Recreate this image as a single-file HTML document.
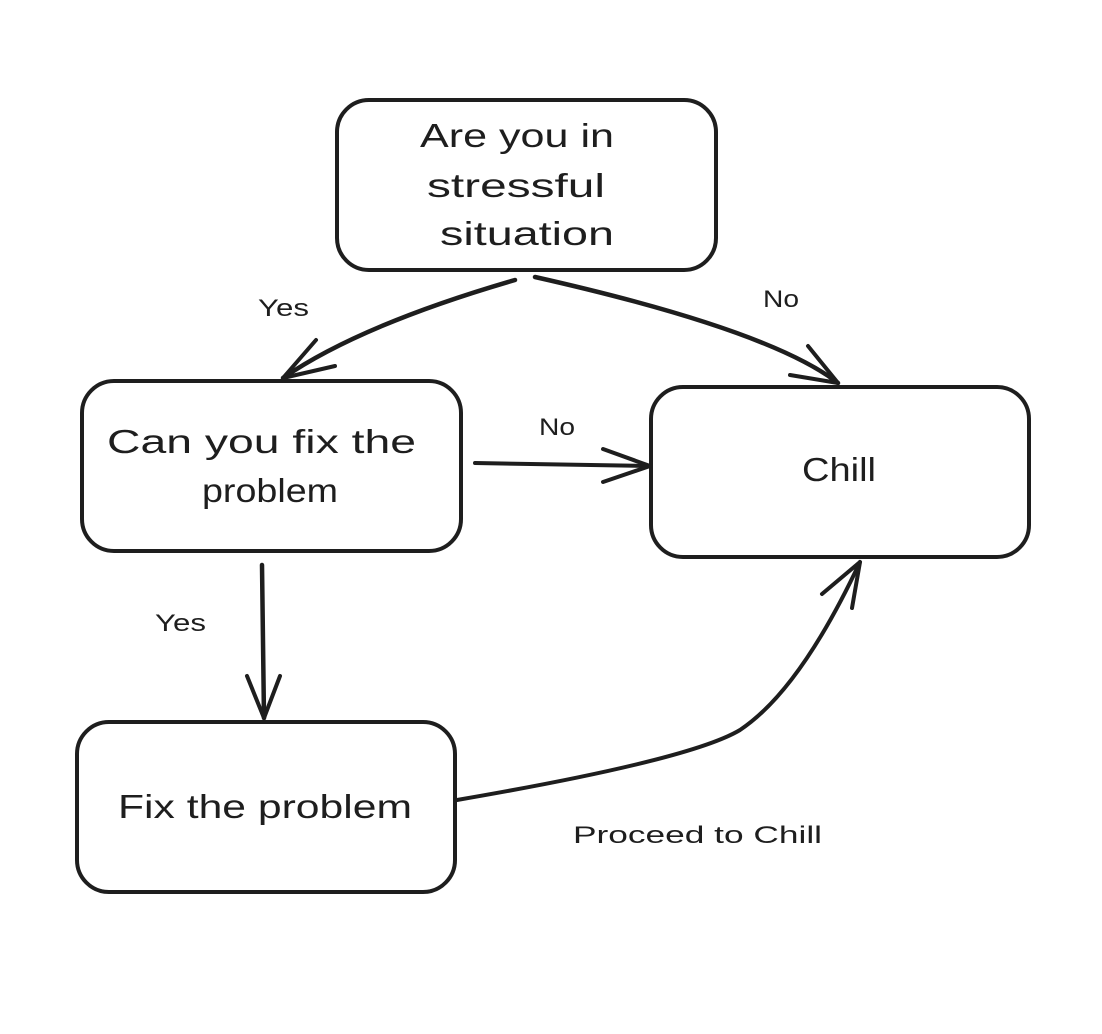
<!DOCTYPE html>
<html><head><style>
html,body{margin:0;padding:0;background:#fff;}
svg{display:block;}
text{font-family:"Liberation Sans",sans-serif;fill:#1e1e1e;}
</style></head><body>
<svg width="1102" height="1034" viewBox="0 0 1102 1034" xmlns="http://www.w3.org/2000/svg">
<g fill="none" stroke="#1e1e1e" stroke-width="4" stroke-linecap="round" stroke-linejoin="round">
<rect x="337" y="100" width="379" height="170" rx="32"/>
<rect x="82" y="381" width="379" height="170" rx="32"/>
<rect x="651" y="387" width="378" height="170" rx="32"/>
<rect x="77" y="722" width="378" height="170" rx="32"/>
<path d="M515 280 Q360 325 283 378" stroke-width="4.5"/>
<path d="M316 340 L283 378 L335 366"/>
<path d="M535 277 Q770 330 838 383" stroke-width="4.5"/>
<path d="M808 346 L838 383 L790 375"/>
<path d="M475 463 L650 466"/>
<path d="M603 449 L650 466 L603 482"/>
<path d="M262 565 L264 718" stroke-width="4.5"/>
<path d="M247 676 L264 718 L280 676"/>
<path d="M457 800 Q690 760 740 730 Q800 690 860 562"/>
<path d="M822 594 L860 562 L852 608"/>
</g>
<g font-size="33">
<text x="420" y="147" textLength="194" lengthAdjust="spacingAndGlyphs">Are you in</text>
<text x="427" y="197" textLength="178" lengthAdjust="spacingAndGlyphs">stressful</text>
<text x="440" y="245" textLength="174" lengthAdjust="spacingAndGlyphs">situation</text>
<text x="107" y="453" textLength="309" lengthAdjust="spacingAndGlyphs">Can you fix the</text>
<text x="202" y="502" textLength="136" lengthAdjust="spacingAndGlyphs">problem</text>
<text x="802" y="481" textLength="74" lengthAdjust="spacingAndGlyphs">Chill</text>
<text x="118" y="818" textLength="294" lengthAdjust="spacingAndGlyphs">Fix the problem</text>
</g>
<g font-size="24">
<text x="258" y="316" textLength="51" lengthAdjust="spacingAndGlyphs">Yes</text>
<text x="763" y="307" textLength="36" lengthAdjust="spacingAndGlyphs">No</text>
<text x="539" y="435" textLength="36" lengthAdjust="spacingAndGlyphs">No</text>
<text x="155" y="631" textLength="51" lengthAdjust="spacingAndGlyphs">Yes</text>
<text x="573" y="843" textLength="249" lengthAdjust="spacingAndGlyphs">Proceed to Chill</text>
</g>
</svg>
</body></html>
